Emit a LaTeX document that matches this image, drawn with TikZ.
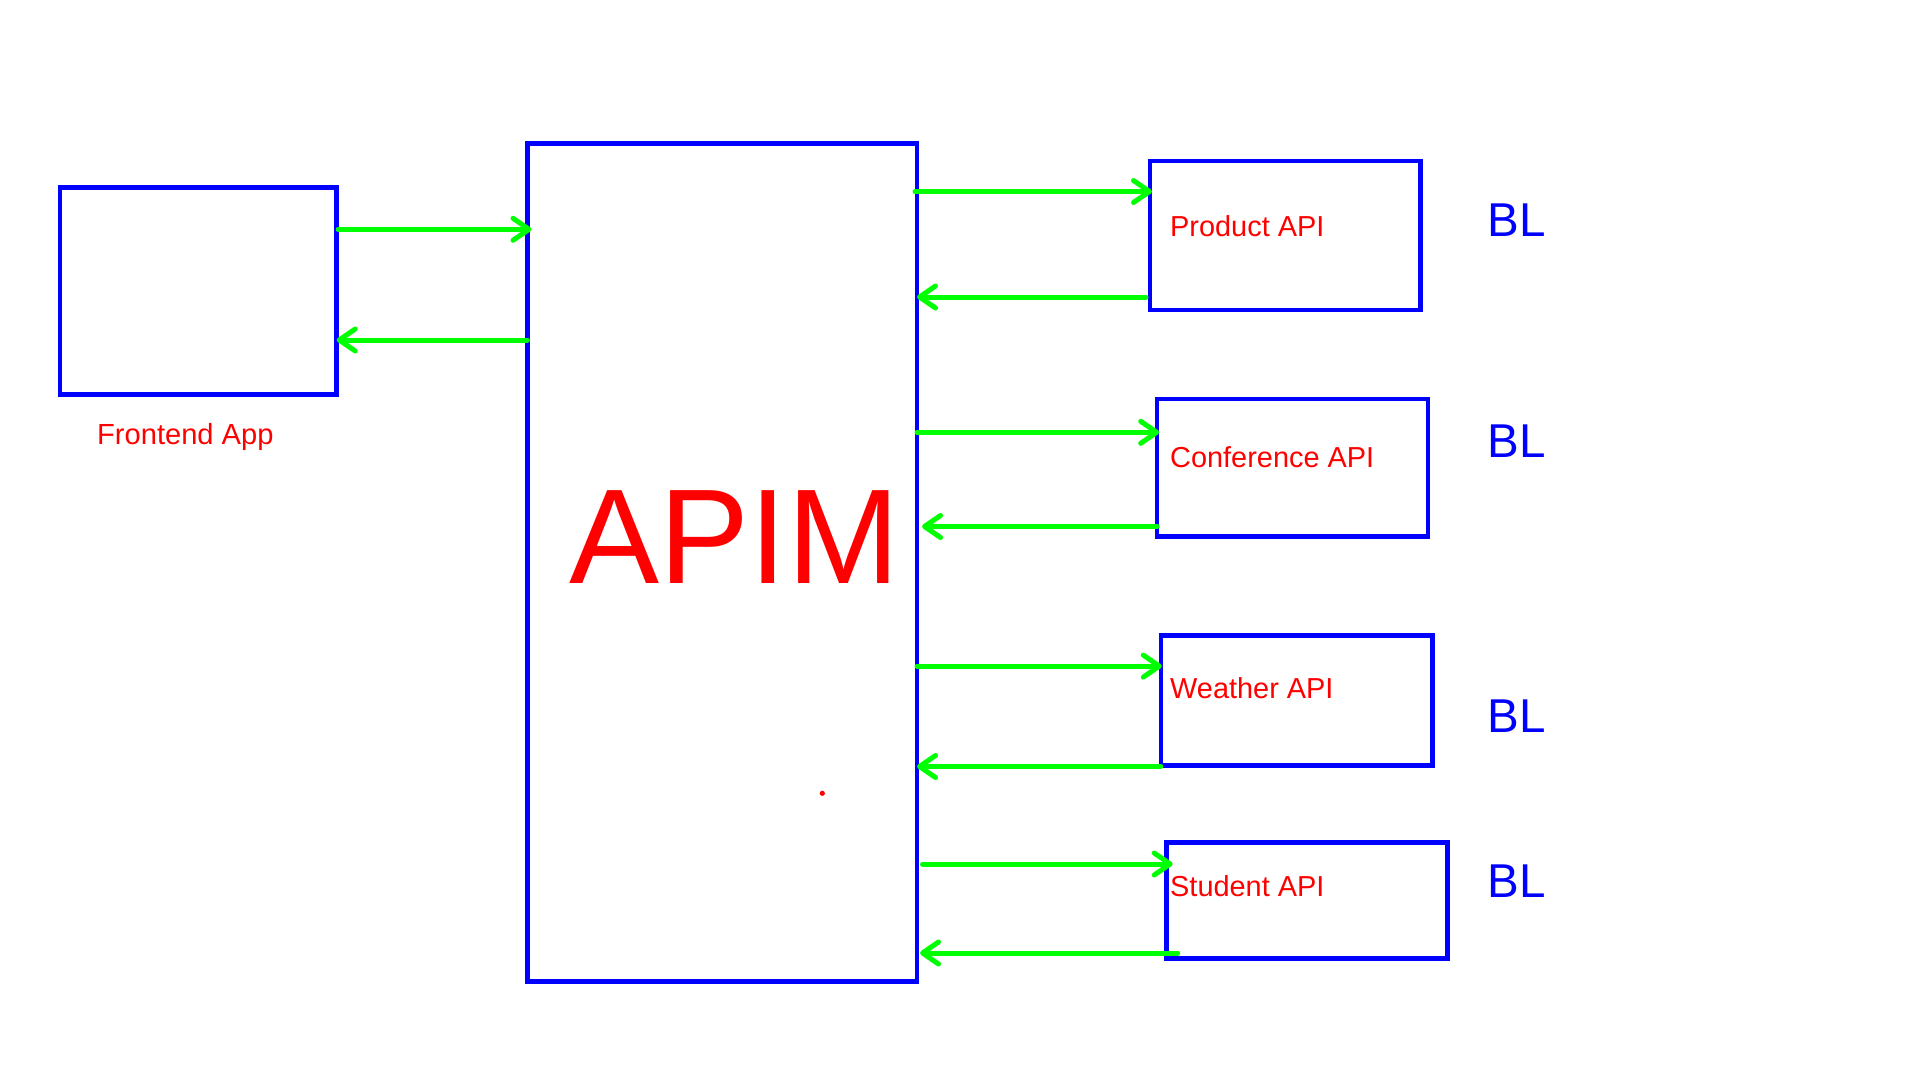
\documentclass[tikz,border=0pt]{standalone}
\usepackage{fontspec}
\setmainfont{Liberation Sans}
\usetikzlibrary{arrows.meta}
\definecolor{pblue}{RGB}{0,0,255}
\definecolor{pred}{RGB}{255,0,0}
\definecolor{pgreen}{RGB}{0,255,0}
\tikzset{
  box/.style={draw=pblue, line width=4.5pt, inner sep=0pt, outer sep=0pt, anchor=north west},
  arr/.style={draw=pgreen, line width=5pt, line cap=round, -{Straight Barb[length=16pt,width=22pt,round]}},
  lbl/.style={text=pred, inner sep=0pt, anchor=base west, font=\fontsize{28.9}{32}\selectfont},
  bl/.style={text=pblue, inner sep=0pt, anchor=base west, font=\fontsize{47.5}{52}\selectfont},
}
\begin{document}
\begin{tikzpicture}[x=1pt, y=-1pt]
\useasboundingbox (0,0) rectangle (1920,1080);
% boxes
\node[box, minimum width=276.7pt, minimum height=207pt] (fe) at (60,187.3) {};
\node[box, minimum width=389.5pt, minimum height=838.2pt] (apim) at (527.5,143.3) {};
\node[box, minimum width=270.4pt, minimum height=148.8pt] (prod) at (1150,161) {};
\node[box, minimum width=270.6pt, minimum height=137.1pt] (conf) at (1157.2,399.2) {};
\node[box, minimum width=271.9pt, minimum height=129.8pt] (weat) at (1160.8,635.5) {};
\node[box, minimum width=280.7pt, minimum height=115.6pt] (stud) at (1166.7,842.7) {};
% labels
\node[lbl, font=\fontsize{29.1}{32}\selectfont] (felbl) at (97,444.3) {Frontend App};
\node[text=pred, inner sep=0pt, anchor=base west, font=\fontsize{135}{140}\selectfont] (apimlbl) at (569.5,583.3) {APIM};
\node[lbl] (prodlbl) at (1170,236) {Product API};
\node[lbl] (conflbl) at (1170,467.7) {Conference API};
\node[lbl] (weatlbl) at (1170,698.3) {Weather API};
\node[lbl] (studlbl) at (1170,896.7) {Student API};
\node[bl] (bl1) at (1487.5,236.7) {BL};
\node[bl] (bl2) at (1487.5,457) {BL};
\node[bl] (bl3) at (1487.5,732) {BL};
\node[bl] (bl4) at (1487.5,897) {BL};
\fill[pred] (822.3,793.3) circle (2.6pt);
% connectors
\draw[arr] ([xshift=1.5pt]fe.east |- 0,229.3) -- ([xshift=4pt]apim.west |- 0,229.3);
\draw[arr] (apim.west |- 0,340) -- (fe.east |- 0,340);
\draw[arr] ([xshift=-2pt]apim.east |- 0,191.5) -- ([xshift=2pt]prod.west |- 0,191.5);
\draw[arr] ([xshift=-4pt]prod.west |- 0,297) -- (apim.east |- 0,297);
\draw[arr] (apim.east |- 0,432.3) -- ([xshift=2pt]conf.west |- 0,432.3);
\draw[arr] (conf.west |- 0,526.5) -- ([xshift=5pt]apim.east |- 0,526.5);
\draw[arr] (apim.east |- 0,666.1) -- ([xshift=1pt]weat.west |- 0,666.1);
\draw[arr] (weat.west |- 0,766.5) -- (apim.east |- 0,766.5);
\draw[arr] ([xshift=5.5pt]apim.east |- 0,864) -- ([xshift=6pt]stud.west |- 0,864);
\draw[arr] ([xshift=11pt]stud.west |- 0,953) -- ([xshift=3pt]apim.east |- 0,953);
\end{tikzpicture}
\end{document}
